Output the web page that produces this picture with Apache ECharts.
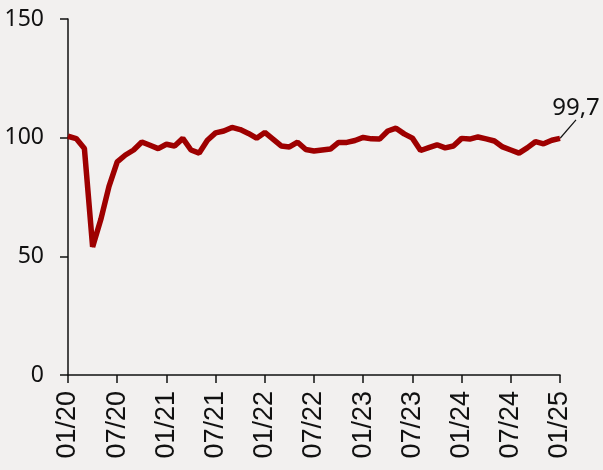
<!DOCTYPE html>
<html>
<head>
<meta charset="utf-8">
<script src="https://cdn.jsdelivr.net/npm/echarts@6/dist/echarts.min.js"></script>
<style>
  html, body { margin: 0; padding: 0; background: #f2f0ef; }
  #chart { width: 603px; height: 470px; }
</style>
</head>
<body>
<div id="chart"></div>
<script>
// monthly labels 01/20 .. 01/25
const months = []
for (let y = 20; y <= 25; y++) {
  for (let m = 1; m <= 12; m++) {
    if (y === 25 && m > 1) break
    months.push((m < 10 ? '0' + m : m) + '/' + y)
  }
}

const values = [
  100.6, 99.6, 95.4, 54.0, 65.5, 79.5, 89.8, 92.7, 94.8, 98.2, 96.8, 95.4,
  97.2, 96.5, 99.7, 94.8, 93.5, 98.9, 102.0, 102.8, 104.3, 103.4, 101.8, 99.8,
  102.2, 99.4, 96.5, 96.1, 98.1, 95.0, 94.4, 94.8, 95.2, 98.0, 98.0, 98.8,
  100.1, 99.5, 99.4, 102.8, 104.0, 101.6, 99.8, 94.6, 95.8, 97.0, 95.7, 96.5,
  99.7, 99.4, 100.3, 99.5, 98.6, 96.1, 94.8, 93.5, 95.7, 98.3, 97.4, 98.9,
  99.7
]

const yTicks = { min: 0, max: 150, interval: 50 }
const lastLabel = '99,7'
const lastIndex = values.length - 1

const chart = echarts.init(document.getElementById('chart'))

const seriesData = values.map((v, i) => {
  if (i !== lastIndex) return v
  return {
    value: v,
    label: {
      show: true,
      position: 'top',
      distance: 6,
      formatter: lastLabel,
      color: '#111',
      fontFamily: 'Noto Sans',
      fontSize: 24
    },
    labelLine: { show: true, lineStyle: { color: '#111', width: 1.2 } }
  }
})

chart.setOption({
  backgroundColor: '#f2f0ef',
  animation: false,
  grid: { left: 68, right: 43, top: 19, bottom: 95 },
  xAxis: {
    type: 'category',
    data: months,
    boundaryGap: false,
    axisLine: { lineStyle: { color: '#111', width: 1.5 } },
    axisTick: { interval: 5, length: 8, lineStyle: { color: '#111', width: 1.5 } },
    axisLabel: {
      interval: 5,
      rotate: 90,
      margin: 16,
      color: '#111',
      fontFamily: 'Liberation Sans',
      fontSize: 27
    },
    splitLine: { show: false }
  },
  yAxis: {
    type: 'value',
    min: yTicks.min,
    max: yTicks.max,
    interval: yTicks.interval,
    axisLine: { show: true, lineStyle: { color: '#111', width: 1.5 } },
    axisTick: { show: true, length: 8, lineStyle: { color: '#111', width: 1.5 } },
    axisLabel: {
      margin: 24,
      color: '#111',
      fontFamily: 'Noto Sans',
      fontSize: 23
    },
    splitLine: { show: false }
  },
  series: [{
    type: 'line',
    data: seriesData,
    showSymbol: true,
    symbol: 'circle',
    symbolSize: 1,
    lineStyle: { color: '#9e0000', width: 5.5 },
    itemStyle: { color: '#9e0000' },
    labelLayout(params) {
      if (params.dataIndex !== lastIndex) return {}
      return { dx: 16, dy: -12 }
    },
    labelLine: { show: true, lineStyle: { color: '#111', width: 1.2 } },
    z: 3
  }]
})
</script>
</body>
</html>
